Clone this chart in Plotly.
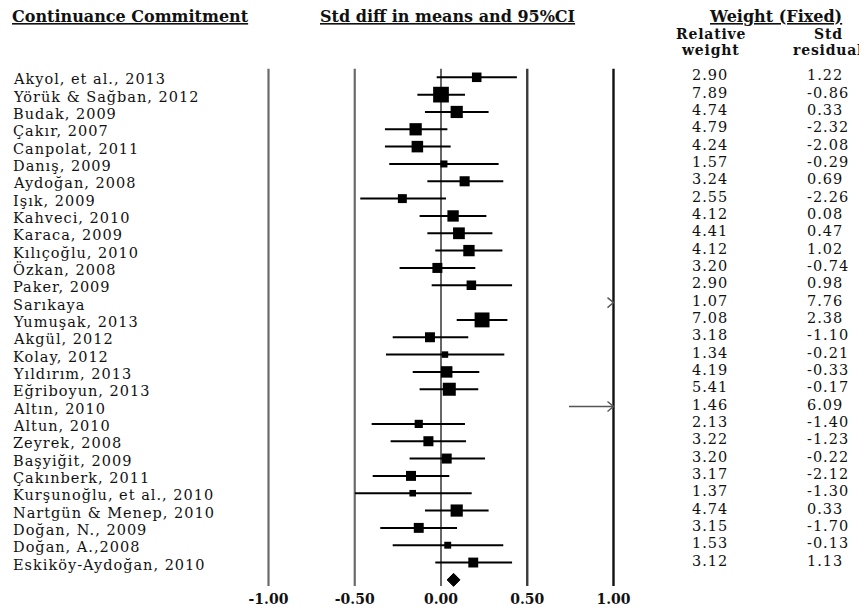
import plotly.graph_objects as go

# ---------------- data ----------------
studies = ["Akyol, et al., 2013", "Yörük & Sağban, 2012", "Budak, 2009", "Çakır, 2007",
           "Canpolat, 2011", "Danış, 2009", "Aydoğan, 2008", "Işık, 2009", "Kahveci, 2010",
           "Karaca, 2009", "Kılıçoğlu, 2010", "Özkan, 2008", "Paker, 2009", "Sarıkaya",
           "Yumuşak, 2013", "Akgül, 2012", "Kolay, 2012", "Yıldırım, 2013", "Eğriboyun, 2013",
           "Altın, 2010", "Altun, 2010", "Zeyrek, 2008", "Başyiğit, 2009", "Çakınberk, 2011",
           "Kurşunoğlu, et al., 2010", "Nartgün & Menep, 2010", "Doğan, N., 2009",
           "Doğan, A.,2008", "Eskiköy-Aydoğan, 2010"]
effect = [0.207, 0.000, 0.091, -0.147, -0.137, 0.017, 0.137, -0.224, 0.070, 0.104, 0.162,
          -0.021, 0.176, None, 0.238, -0.064, 0.023, 0.033, 0.048, None, -0.129, -0.073,
          0.033, -0.174, -0.164, 0.091, -0.129, 0.039, 0.187]
ci_low = [-0.025, -0.137, -0.093, -0.325, -0.325, -0.300, -0.079, -0.468, -0.124, -0.079,
          -0.033, -0.240, -0.054, None, 0.091, -0.280, -0.319, -0.164, -0.124, None, -0.402,
          -0.292, -0.182, -0.396, -0.499, -0.093, -0.352, -0.280, -0.033]
ci_high = [0.440, 0.139, 0.276, 0.037, 0.056, 0.334, 0.361, 0.029, 0.263, 0.298, 0.356,
           0.199, 0.412, None, 0.385, 0.158, 0.367, 0.222, 0.216, None, 0.139, 0.145, 0.255,
           0.048, 0.178, 0.276, 0.093, 0.361, 0.412]
rel_weight = ["2.90", "7.89", "4.74", "4.79", "4.24", "1.57", "3.24", "2.55", "4.12", "4.41",
              "4.12", "3.20", "2.90", "1.07", "7.08", "3.18", "1.34", "4.19", "5.41", "1.46",
              "2.13", "3.22", "3.20", "3.17", "1.37", "4.74", "3.15", "1.53", "3.12"]
std_resid = ["1.22", "-0.86", "0.33", "-2.32", "-2.08", "-0.29", "0.69", "-2.26", "0.08",
             "0.47", "1.02", "-0.74", "0.98", "7.76", "2.38", "-1.10", "-0.21", "-0.33",
             "-0.17", "6.09", "-1.40", "-1.23", "-0.22", "-2.12", "-1.30", "0.33", "-1.70",
             "-0.13", "1.13"]
# studies whose interval lies beyond the axis: start of visible shaft (None = head only)
clipped = {"Sarıkaya": None, "Altın, 2010": 0.742}
summary_est, summary_low, summary_high = 0.073, 0.035, 0.110
tick_vals = [-1.0, -0.5, 0.0, 0.5, 1.0]
tick_text = ["-1.00", "-0.50", "0.00", "0.50", "1.00"]

# ---------------- geometry (page pixels, page body has an 8px margin) ----------------
OFF = 8
W, H = 867 - OFF, 610 - OFF
PX0, PXU = 441.0 - OFF, 172.5     # pixel of 0.00 and pixels per unit
ROW0, ROWH = 77.3 - OFF, 17.33    # pixel of first row and row height
B = 21
x_range = [(0 - PX0) / PXU, (W - PX0) / PXU]
y_range = [(H - B - ROW0) / ROWH, (0 - ROW0) / ROWH]


def px(x):
    return (x - OFF) / W


def py(y):
    return 1 - (y - OFF) / H


def spaced(t, ls):
    return '<span style="letter-spacing:%spx">%s</span>' % (ls, t)


rows = list(range(len(studies)))
weights = [float(w) for w in rel_weight]
sizes = [5.6 * w ** 0.5 if e is not None else 0 for w, e in zip(weights, effect)]
err_plus = [None if e is None else h - e for e, h in zip(effect, ci_high)]
err_minus = [None if e is None else e - l for e, l in zip(effect, ci_low)]

fig = go.Figure()

# vertical reference lines
line_styles = {-1.0: ("#6a6a6a", 2.2), -0.5: ("#6a6a6a", 2.2), 0.0: ("#000000", 1.2),
               0.5: ("#3a3a3a", 2.4), 1.0: ("#111111", 2.4)}
for v in tick_vals:
    col, wd = line_styles[v]
    fig.add_shape(type="line", xref="x", yref="y", x0=v, x1=v, y0=-0.5,
                  y1=(586 - OFF - ROW0) / ROWH, line=dict(color=col, width=wd), layer="below")

# study estimates with CI
fig.add_trace(go.Scatter(
    x=effect, y=rows, mode="markers",
    marker=dict(symbol="square", size=sizes, color="black", opacity=1, line=dict(width=0)),
    error_x=dict(type="data", symmetric=False, array=err_plus, arrayminus=err_minus,
                 color="black", thickness=2, width=0),
    hoverinfo="skip", showlegend=False, cliponaxis=False))

# clipped studies: arrows at the right edge of the axis
ax_x, ax_y = [], []
dx, dy = 6 / PXU, 5 / ROWH
for name, start in clipped.items():
    r = studies.index(name)
    if start is not None:
        ax_x += [start, 1.0, None]
        ax_y += [r, r, None]
    ax_x += [1.0 - dx, 1.0, 1.0 - dx, None]
    ax_y += [r - dy, r, r + dy, None]
fig.add_trace(go.Scatter(x=ax_x, y=ax_y, mode="lines",
                         line=dict(color="#555555", width=1.4),
                         hoverinfo="skip", showlegend=False))

# summary diamond
srow = len(studies)
hh = 0.375
fig.add_trace(go.Scatter(
    x=[summary_low, summary_est, summary_high, summary_est, summary_low],
    y=[srow, srow - hh, srow, srow + hh, srow],
    mode="lines", fill="toself", fillcolor="black", line=dict(color="black", width=1),
    hoverinfo="skip", showlegend=False))

# ---------------- text ----------------
serif = "DejaVu Serif"
body = dict(family=serif, size=14.5, color="#111")
LS = 1.0
ann = []
for i, name in enumerate(studies):
    ann.append(dict(x=px(12), xref="paper", y=i, yref="y", yshift=-2, text=spaced(name, LS),
                    showarrow=False, xanchor="left", yanchor="middle", font=body, borderpad=0))
    ann.append(dict(x=px(691), xref="paper", y=i, yref="y", yshift=2, text=spaced(rel_weight[i], LS),
                    showarrow=False, xanchor="left", yanchor="middle", font=body, borderpad=0))
    ann.append(dict(x=px(806), xref="paper", y=i, yref="y", yshift=2, text=spaced(std_resid[i], LS),
                    showarrow=False, xanchor="left", yanchor="middle", font=body, borderpad=0))

hdr = dict(family=serif, size=16, color="#111")
sub = dict(family=serif, size=14, color="#111")
ann += [
    dict(x=px(10), xref="paper", y=py(16.5), yref="paper", text="<b><u>Continuance Commitment</u></b>",
         showarrow=False, xanchor="left", yanchor="middle", font=hdr),
    dict(x=px(447.5), xref="paper", y=py(16.5), yref="paper", text="<b><u>Std diff in means and 95%CI</u></b>",
         showarrow=False, xanchor="center", yanchor="middle", font=hdr),
    dict(x=px(775), xref="paper", y=py(16.5), yref="paper", text="<b><u>Weight (Fixed)</u></b>",
         showarrow=False, xanchor="center", yanchor="middle", font=hdr),
    dict(x=px(711), xref="paper", y=py(35), yref="paper", text=spaced("<b>Relative</b>", 0.8),
         showarrow=False, xanchor="center", yanchor="middle", font=sub, borderpad=0),
    dict(x=px(710), xref="paper", y=py(52), yref="paper", text=spaced("<b>weight</b>", 0.8),
         showarrow=False, xanchor="center", yanchor="middle", font=sub, borderpad=0),
    dict(x=px(828), xref="paper", y=py(35), yref="paper", text=spaced("<b>Std</b>", 0.8),
         showarrow=False, xanchor="center", yanchor="middle", font=sub, borderpad=0),
    dict(x=px(828), xref="paper", y=py(52), yref="paper", text=spaced("<b>residual</b>", 0.8),
         showarrow=False, xanchor="center", yanchor="middle", font=sub, borderpad=0),
]

fig.update_layout(
    width=W, height=H, margin=dict(l=0, r=0, t=0, b=B),
    paper_bgcolor="white", plot_bgcolor="white",
    annotations=ann,
    xaxis=dict(range=x_range, showgrid=False, zeroline=False, showline=False,
               tickmode="array", tickvals=tick_vals,
               ticktext=["<b>%s</b>" % t for t in tick_text],
               tickfont=dict(family=serif, size=14, color="#111"), ticks="",
               fixedrange=True),
    yaxis=dict(range=y_range, showgrid=False, zeroline=False, showline=False,
               showticklabels=False, fixedrange=True),
)

fig.write_html("out.html")
